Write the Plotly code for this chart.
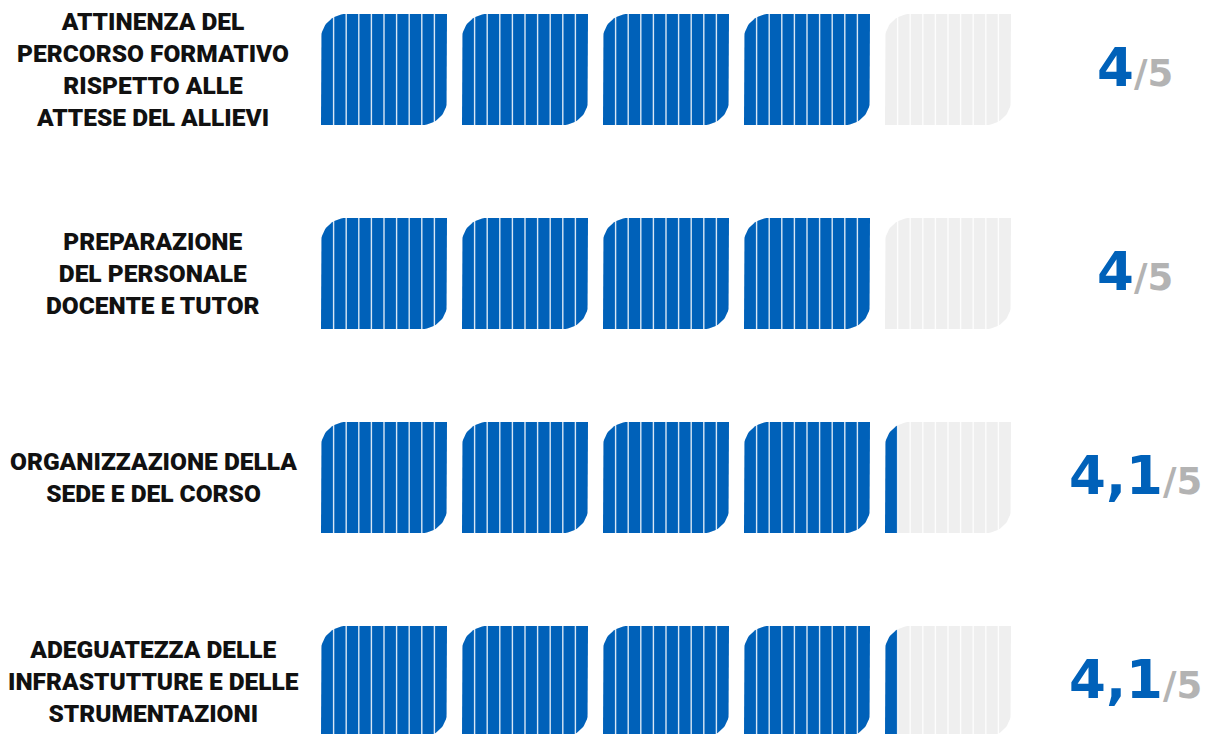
import math
import plotly.graph_objects as go

# ---- data ----
categories = [
    "ATTINENZA DEL<br>PERCORSO FORMATIVO<br>RISPETTO ALLE<br>ATTESE DEL ALLIEVI",
    "PREPARAZIONE<br>DEL PERSONALE<br>DOCENTE E TUTOR",
    "ORGANIZZAZIONE DELLA<br>SEDE E DEL CORSO",
    "ADEGUATEZZA DELLE<br>INFRASTUTTURE E DELLE<br>STRUMENTAZIONI",
]
scores = [4.0, 4.0, 4.1, 4.1]
max_score = 5
stripes_per_block = 10

# ---- style ----
BLUE = "#0061b9"
EMPTY = "#efefef"
GREY_TXT = "#b3b3b3"
OFF = 8.0             # page body margin
W, H = int(1210 - OFF), int(734 - OFF)
PX_X = 141.0          # pixels per score unit
PX_Y = 204.0          # pixels per row
X0_PX = 321.0 - OFF   # pixel of score 0
Y0_PX = 69.5 - OFF    # pixel of first row centre
BW = 126.0 / PX_X     # block width (fraction of unit)
BH = 55.5 / PX_Y      # half block height
R = 25.0
RX, RY = R / PX_X, R / PX_Y


def block_poly(x0, yc):
    x1 = x0 + BW
    yt, yb = yc - BH, yc + BH
    pts = [(x0, yb), (x0, yt + RY)]
    n = 16
    cx, cy = x0 + RX, yt + RY
    for s in range(n + 1):
        a = math.pi + (math.pi / 2) * s / n
        pts.append((cx + RX * math.cos(a), cy + RY * math.sin(a)))
    pts.append((x1, yt))
    pts.append((x1, yb - RY))
    cx, cy = x1 - RX, yb - RY
    for s in range(n + 1):
        a = (math.pi / 2) * s / n
        pts.append((cx + RX * math.cos(a), cy + RY * math.sin(a)))
    pts.append((x0, yb))
    return pts


def clip_left(pts, xc):
    out = []
    m = len(pts)
    for i in range(m):
        p, q = pts[i], pts[(i + 1) % m]
        pin, qin = p[0] <= xc, q[0] <= xc
        if pin:
            out.append(p)
        if pin != qin:
            t = (xc - p[0]) / (q[0] - p[0])
            out.append((xc, p[1] + t * (q[1] - p[1])))
    return out


fig = go.Figure()

# empty blocks
for i, s in enumerate(scores):
    for k in range(max_score):
        pts = block_poly(k, i)
        fig.add_trace(go.Scatter(
            x=[p[0] for p in pts], y=[p[1] for p in pts],
            fill="toself", fillcolor=EMPTY, mode="lines",
            line=dict(width=0), hoverinfo="skip", showlegend=False))

# filled parts
for i, s in enumerate(scores):
    for k in range(max_score):
        frac = max(0.0, min(1.0, s - k))
        if frac <= 1e-6:
            continue
        pts = block_poly(k, i)
        if frac < 1:
            pts = clip_left(pts, k + frac * BW)
        fig.add_trace(go.Scatter(
            x=[p[0] for p in pts], y=[p[1] for p in pts],
            fill="toself", fillcolor=BLUE, mode="lines",
            line=dict(width=0), hoverinfo="skip", showlegend=False))

# stripe separators
sx, sy = [], []
for i, s in enumerate(scores):
    for k in range(max_score):
        for j in range(1, stripes_per_block):
            x = k + j * BW / stripes_per_block
            sx += [x, x, None]
            sy += [i - BH, i + BH, None]
fig.add_trace(go.Scatter(x=sx, y=sy, mode="lines",
                         line=dict(color="rgba(255,255,255,0.85)", width=1.4),
                         hoverinfo="skip", showlegend=False))

annotations = []
label_x = (153 - OFF - X0_PX) / PX_X
score_x = (1135 - OFF - X0_PX) / PX_X
for i, (c, s) in enumerate(zip(categories, scores)):
    annotations.append(dict(
        x=label_x, y=i, xref="x", yref="y", showarrow=False,
        text=c, align="center",
        font=dict(family="Roboto", size=24.5, color="#111111", weight=900),
        xanchor="center", yanchor="middle"))
    lab = f"{s:g}".replace(".", ",")
    annotations.append(dict(
        x=score_x, y=i - 0.012, xref="x", yref="y", showarrow=False,
        text=(f"<b><span style='color:{BLUE};font-size:53px'>{lab}</span>"
              f"<span style='color:{GREY_TXT};font-size:37px'>/{max_score}</span></b>"),
        font=dict(family="DejaVu Sans", size=37, color=BLUE),
        xanchor="center", yanchor="middle"))

fig.update_layout(
    width=W, height=H,
    margin=dict(l=0, r=0, t=0, b=0),
    paper_bgcolor="white", plot_bgcolor="white",
    xaxis=dict(range=[-X0_PX / PX_X, (W - X0_PX) / PX_X], visible=False, fixedrange=True),
    yaxis=dict(range=[(H - Y0_PX) / PX_Y, -Y0_PX / PX_Y], visible=False, fixedrange=True),
    annotations=annotations,
)

fig.write_html("out.html")
